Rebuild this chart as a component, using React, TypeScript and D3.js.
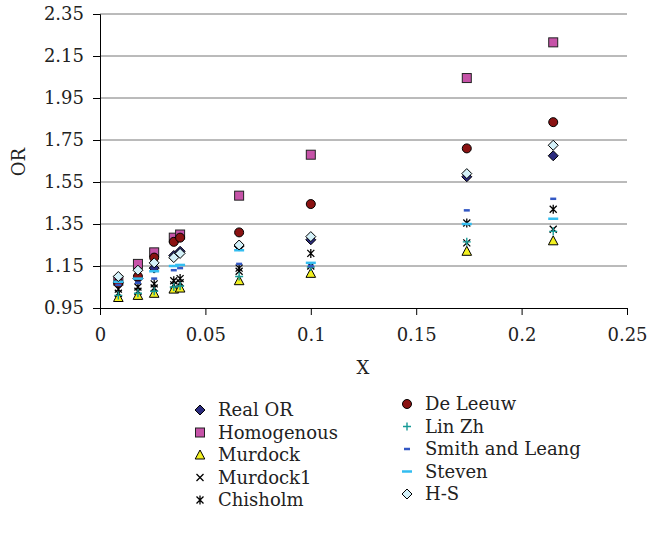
import React, { useEffect, useRef } from 'react';
import * as d3 from 'd3';

// x positions of the observations
const xValues = [0.0087, 0.018, 0.0257, 0.035, 0.038, 0.066, 0.1, 0.174, 0.215];

// series values
const realOR = [1.07, 1.09, 1.14, 1.2, 1.22, 1.245, 1.275, 1.575, 1.675];
const homogenous = [1.08, 1.16, 1.215, 1.285, 1.3, 1.485, 1.68, 2.045, 2.215];
const murdock = [1.0, 1.01, 1.02, 1.04, 1.045, 1.08, 1.115, 1.22, 1.27];
const murdock1 = [1.02, 1.03, 1.045, 1.06, 1.07, 1.125, 1.15, 1.26, 1.325];
const chisholm = [1.04, 1.05, 1.065, 1.08, 1.09, 1.14, 1.21, 1.355, 1.42];
const deLeeuw = [1.07, 1.1, 1.19, 1.265, 1.285, 1.31, 1.445, 1.71, 1.835];
const linZh = [1.01, 1.02, 1.03, 1.05, 1.055, 1.1, 1.145, 1.265, 1.315];
const smithLeang = [1.06, 1.07, 1.09, 1.13, 1.14, 1.16, 1.15, 1.415, 1.47];
const steven = [1.075, 1.09, 1.125, 1.15, 1.155, 1.225, 1.165, 1.35, 1.375];
const hs = [1.1, 1.13, 1.165, 1.19, 1.21, 1.25, 1.29, 1.59, 1.725];

const yTicks = [0.95, 1.15, 1.35, 1.55, 1.75, 1.95, 2.15, 2.35];
const xTicks = [0, 0.05, 0.1, 0.15, 0.2, 0.25];
const xTickLabels = ['0', '0.05', '0.1', '0.15', '0.2', '0.25'];

const FONT = 'DejaVu Serif';

const series = [
  { name: 'Real OR', values: realOR, marker: 'diamond', color: '#2b2b7e', col: 0 },
  { name: 'Homogenous', values: homogenous, marker: 'square', color: '#c653a8', col: 0 },
  { name: 'Murdock', values: murdock, marker: 'triangle', color: '#f2f020', col: 0 },
  { name: 'Murdock1', values: murdock1, marker: 'x', color: '#000', col: 0 },
  { name: 'Chisholm', values: chisholm, marker: 'star', color: '#000', col: 0 },
  { name: 'De Leeuw', values: deLeeuw, marker: 'circle', color: '#8a1212', col: 1 },
  { name: 'Lin Zh', values: linZh, marker: 'plus', color: '#179a96', col: 1 },
  { name: 'Smith and Leang', values: smithLeang, marker: 'dash', color: '#3358c4', col: 1 },
  { name: 'Steven', values: steven, marker: 'longdash', color: '#33bdf0', col: 1 },
  { name: 'H-S', values: hs, marker: 'diamond', color: '#d4f1f9', col: 1 },
];

function drawMarker(g, kind, color) {
  if (kind === 'diamond') {
    g.append('path').attr('d', 'M0,-5L5,0L0,5L-5,0Z').attr('fill', color).attr('stroke', '#000').attr('stroke-width', 1);
  } else if (kind === 'square') {
    g.append('rect').attr('x', -4.5).attr('y', -4.5).attr('width', 9).attr('height', 9)
      .attr('fill', color).attr('stroke', '#222').attr('stroke-width', 1);
  } else if (kind === 'triangle') {
    g.append('path').attr('d', 'M0,-5L4.8,4L-4.8,4Z').attr('fill', color).attr('stroke', '#000').attr('stroke-width', 1);
  } else if (kind === 'circle') {
    g.append('circle').attr('r', 4.5).attr('fill', color).attr('stroke', '#000').attr('stroke-width', 1);
  } else if (kind === 'x' || kind === 'star') {
    g.append('path').attr('d', 'M-3.5,-3.5L3.5,3.5M-3.5,3.5L3.5,-3.5' + (kind === 'star' ? 'M0,-4.5L0,4.5' : ''))
      .attr('stroke', color).attr('stroke-width', 1.3).attr('fill', 'none');
  } else if (kind === 'plus') {
    g.append('path').attr('d', 'M-4,0L4,0M0,-4L0,4').attr('stroke', color).attr('stroke-width', 1.4);
  } else if (kind === 'dash') {
    g.append('path').attr('d', 'M-3,0L3,0').attr('stroke', color).attr('stroke-width', 2.5);
  } else if (kind === 'longdash') {
    g.append('path').attr('d', 'M-5,0L5,0').attr('stroke', color).attr('stroke-width', 2.5);
  }
}

const App = () => {
  const svgRef = useRef(null);

  useEffect(() => {
    const svg = d3.select(svgRef.current);
    svg.selectAll('*').remove();

    const x = d3.scaleLinear().domain([0, 0.25]).range([100, 627]);
    const y = d3.scaleLinear().domain([0.95, 2.35]).range([308, 14]);

    // gridlines
    svg.append('g').selectAll('line')
      .data(yTicks.slice(1))
      .enter().append('line')
      .attr('x1', x(0)).attr('x2', x(0.25))
      .attr('y1', d => y(d)).attr('y2', d => y(d))
      .attr('stroke', '#777').attr('stroke-width', 1);

    // y axis
    const yAxis = svg.append('g')
      .attr('transform', `translate(${x(0)},0)`)
      .call(d3.axisLeft(y).tickValues(yTicks).tickSize(7).tickPadding(9).tickFormat(d3.format('.2f')));
    yAxis.select('.domain').attr('stroke', '#000');
    yAxis.selectAll('text').attr('font-family', FONT).attr('font-size', 18).attr('fill', '#222');

    // x axis
    const xAxis = svg.append('g')
      .attr('transform', `translate(0,${y(0.95)})`)
      .call(d3.axisBottom(x).tickValues(xTicks).tickSize(7).tickPadding(13)
        .tickFormat((d, i) => xTickLabels[i]));
    xAxis.select('.domain').attr('stroke', '#000');
    xAxis.selectAll('text').attr('font-family', FONT).attr('font-size', 18).attr('fill', '#222');

    // axis titles
    svg.append('text')
      .attr('transform', 'rotate(-90)')
      .attr('x', -162).attr('y', 25)
      .attr('text-anchor', 'middle')
      .attr('font-family', FONT).attr('font-size', 18).attr('fill', '#222')
      .text('OR');
    svg.append('text')
      .attr('x', 363).attr('y', 374)
      .attr('text-anchor', 'middle')
      .attr('font-family', FONT).attr('font-size', 18).attr('fill', '#222')
      .text('X');

    // points
    series.forEach(s => {
      s.values.forEach((v, i) => {
        const g = svg.append('g').attr('transform', `translate(${x(xValues[i])},${y(v)})`);
        drawMarker(g, s.marker, s.color);
      });
    });

    // legend
    const legendRows = [
      [410, 432.5, 455, 477.5, 500],
      [404, 426.5, 449, 471.5, 494],
    ];
    const colCount = [0, 0];
    series.forEach(s => {
      const row = colCount[s.col]++;
      const cy = legendRows[s.col][row];
      const mx = s.col === 0 ? 200 : 407;
      const g = svg.append('g').attr('transform', `translate(${mx},${cy})`);
      drawMarker(g, s.marker, s.color);
      svg.append('text')
        .attr('x', mx + 18).attr('y', cy + 6)
        .attr('font-family', FONT).attr('font-size', 18).attr('fill', '#222')
        .text(s.name);
    });
  }, []);

  return (
    <svg ref={svgRef} width={649} height={533}
      style={{ position: 'absolute', left: 0, top: 0, background: '#fff' }} />
  );
};

export default App;
